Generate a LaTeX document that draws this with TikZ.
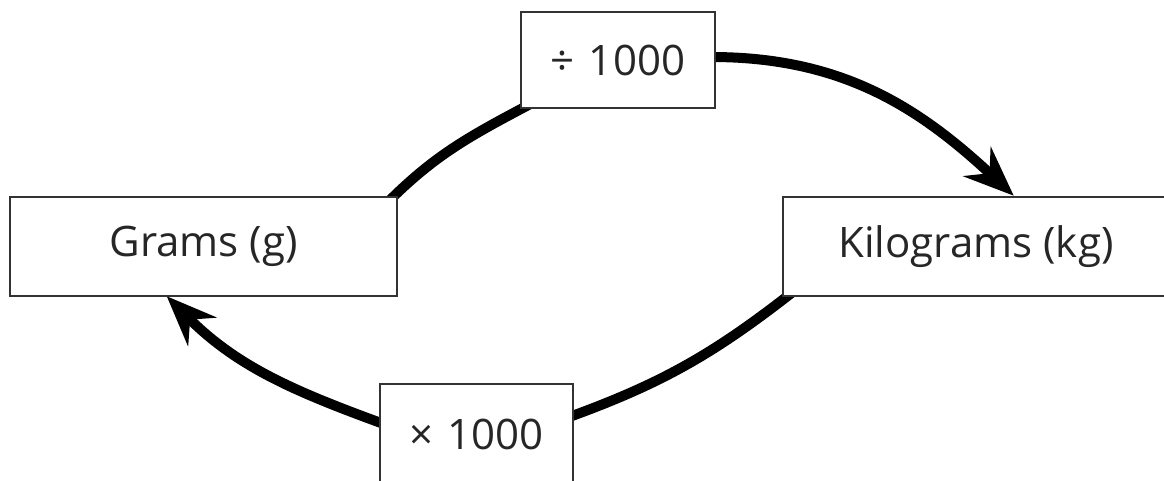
\documentclass[tikz,border=0pt]{standalone}
\usepackage{fontspec}
\setmainfont{Open Sans}
\usetikzlibrary{arrows.meta,calc}
\pgfdeclarelayer{bg}
\pgfsetlayers{bg,main}
\begin{document}
\begin{tikzpicture}[x=1pt,y=1pt,
  box/.style={draw=black!80, line width=2.5pt, fill=white, minimum height=99pt,
    inner sep=0pt, font=\fontsize{42}{50}\selectfont, text=black!85},
  conn/.style={line width=10pt},
  arr/.style={conn, -{Stealth[length=50pt,width=40pt,inset=17pt]}}]
\useasboundingbox (0,0) rectangle (1164,480);
\node[box, minimum width=387pt] (grams) at (203.5,233.5) {Grams (g)};
\node[box, minimum width=386pt] (kg) at (976,233.5) {Kilograms (kg)};
\node[box, minimum width=194pt, minimum height=96pt] (div) at (618,420) {÷\,\,1000};
\node[box, minimum width=193pt, minimum height=100pt] (mul) at (476.5,46) {×\,\,1000};
\begin{pgfonlayer}{bg}
\draw[conn] ($(grams.north east)+(-10,-6)$) to[out=45,in=208] ($(div.south west)+(12,6)$);
\draw[arr] ($(div.east)+(-5,3)$) to[out=0,in=137] ($(kg.north west)+(232,0)$);
\draw[conn] ($(kg.south west)+(12,6)$) to[out=218,in=20] ($(mul.east)+(-5,17)$);
\draw[arr] ($(mul.west)+(5,10)$) to[out=160,in=315] ($(grams.south west)+(158,1)$);
\end{pgfonlayer}
\end{tikzpicture}
\end{document}
